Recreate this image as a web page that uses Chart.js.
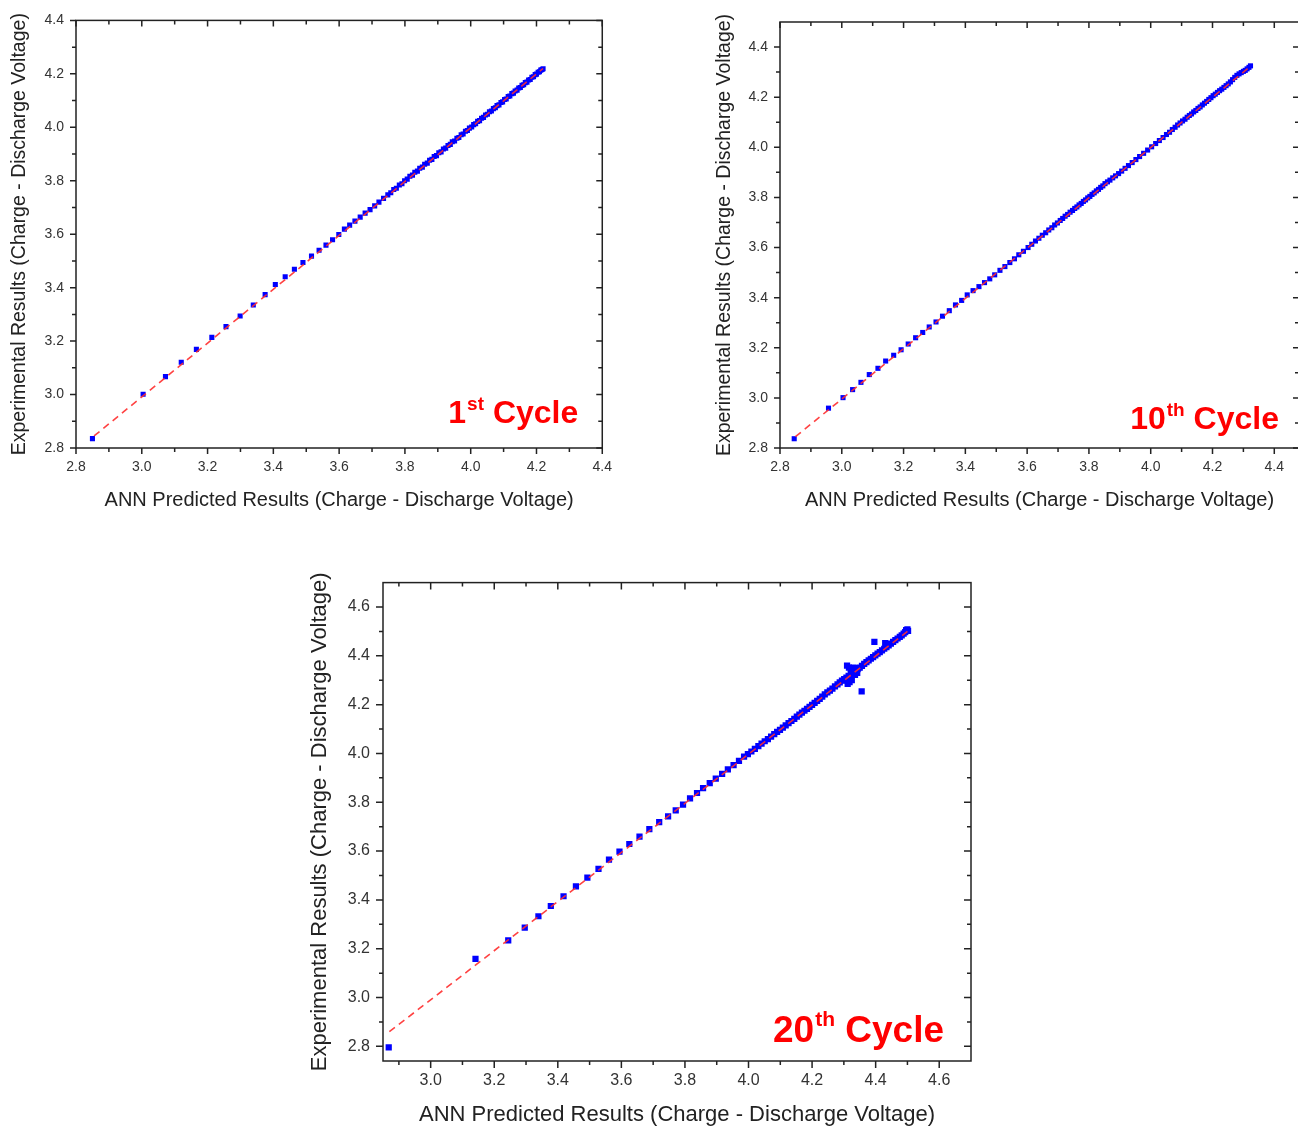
<!DOCTYPE html>
<html lang="en">
<head>
<meta charset="UTF-8">
<title>ANN Predicted vs Experimental Voltage</title>
<script src="https://cdn.jsdelivr.net/npm/chart.js"></script>
<style>
    html, body { margin: 0; padding: 0; overflow: hidden; background: #fff; }
    body { width: 1298px; height: 1128px; position: relative; }
    canvas { position: absolute; }
    #c1 { left: 0; top: 0; }
    #c2 { left: 700px; top: 0; }
    #c3 { left: 300px; top: 560px; }
</style>
</head>
<body>
<canvas id="c1" width="623" height="520"></canvas>
<canvas id="c2" width="620" height="520"></canvas>
<canvas id="c3" width="700" height="568"></canvas>

<script>
// axis titles
const xTitle = 'ANN Predicted Results (Charge - Discharge Voltage)';
const yTitle = 'Experimental Results (Charge - Discharge Voltage)';

// tick labels
const ticks1 = [2.8, 3.0, 3.2, 3.4, 3.6, 3.8, 4.0, 4.2, 4.4];
const ticks3x = [3.0, 3.2, 3.4, 3.6, 3.8, 4.0, 4.2, 4.4, 4.6];
const ticks3y = [2.8, 3.0, 3.2, 3.4, 3.6, 3.8, 4.0, 4.2, 4.4, 4.6];

// 1st cycle: [predicted, experimental]
const cycle1 = [
    [2.850, 2.835], [3.004, 3.001], [3.072, 3.067], [3.120, 3.121], [3.166, 3.169], [3.213, 3.214],
    [3.256, 3.254], [3.299, 3.294], [3.339, 3.335], [3.375, 3.374], [3.406, 3.412], [3.436, 3.441],
    [3.464, 3.469], [3.490, 3.494], [3.516, 3.518], [3.539, 3.540], [3.560, 3.559], [3.580, 3.579],
    [3.599, 3.599], [3.616, 3.619], [3.632, 3.634], [3.648, 3.649], [3.664, 3.664], [3.679, 3.679],
    [3.694, 3.692], [3.708, 3.706], [3.721, 3.720], [3.735, 3.734], [3.748, 3.747],
    [3.757, 3.755], [3.766, 3.767], [3.774, 3.772], [3.783, 3.784], [3.791, 3.789], [3.799, 3.800],
    [3.807, 3.806], [3.815, 3.817], [3.823, 3.821], [3.830, 3.832], [3.838, 3.836], [3.845, 3.847],
    [3.853, 3.851], [3.860, 3.862], [3.868, 3.866], [3.875, 3.877], [3.882, 3.880], [3.889, 3.891],
    [3.896, 3.894], [3.903, 3.905], [3.910, 3.908], [3.917, 3.919], [3.924, 3.922], [3.931, 3.932],
    [3.938, 3.936], [3.944, 3.946], [3.951, 3.949], [3.958, 3.959], [3.964, 3.962], [3.971, 3.972],
    [3.977, 3.975], [3.984, 3.985], [3.990, 3.988], [3.996, 3.997], [4.003, 4.001], [4.009, 4.010],
    [4.015, 4.013], [4.021, 4.022], [4.027, 4.025], [4.033, 4.034], [4.039, 4.037], [4.045, 4.046],
    [4.051, 4.049], [4.057, 4.058], [4.063, 4.061], [4.069, 4.070], [4.075, 4.073], [4.080, 4.081],
    [4.086, 4.084], [4.092, 4.093], [4.097, 4.095], [4.103, 4.104], [4.108, 4.106], [4.114, 4.115],
    [4.119, 4.117], [4.125, 4.126], [4.130, 4.128], [4.135, 4.136], [4.141, 4.139], [4.146, 4.147],
    [4.151, 4.149], [4.156, 4.157], [4.161, 4.159], [4.166, 4.167], [4.171, 4.169], [4.176, 4.177],
    [4.181, 4.179], [4.186, 4.187], [4.191, 4.189], [4.196, 4.197], [4.200, 4.199], [4.205, 4.206],
    [4.209, 4.208], [4.213, 4.214], [4.217, 4.216], [4.220, 4.219]
];
const fit1 = [[2.855, 2.845], [4.22, 4.22]];

// 10th cycle
const cycle10 = [
    [2.846, 2.837], [2.957, 2.959], [3.004, 3.001], [3.035, 3.033], [3.062, 3.062], [3.089, 3.093],
    [3.117, 3.118], [3.142, 3.147], [3.168, 3.170], [3.192, 3.192], [3.215, 3.215], [3.239, 3.240],
    [3.262, 3.261], [3.283, 3.283], [3.305, 3.303], [3.326, 3.326], [3.348, 3.348], [3.368, 3.371],
    [3.388, 3.389], [3.406, 3.411], [3.425, 3.428], [3.444, 3.444], [3.462, 3.460], [3.479, 3.475],
    [3.495, 3.491], [3.512, 3.509], [3.528, 3.524], [3.544, 3.540], [3.559, 3.555], [3.573, 3.571],
    [3.588, 3.585], [3.603, 3.600],
    [3.615, 3.613], [3.627, 3.626], [3.638, 3.637], [3.649, 3.649], [3.660, 3.659], [3.670, 3.670],
    [3.680, 3.679], [3.689, 3.690], [3.698, 3.698], [3.707, 3.708], [3.715, 3.716], [3.723, 3.725],
    [3.731, 3.732], [3.739, 3.741], [3.747, 3.748], [3.754, 3.756], [3.761, 3.762], [3.768, 3.770],
    [3.775, 3.776], [3.782, 3.784], [3.789, 3.790], [3.796, 3.798], [3.803, 3.804], [3.810, 3.812],
    [3.817, 3.818], [3.824, 3.826], [3.831, 3.832], [3.838, 3.840], [3.845, 3.846], [3.852, 3.855],
    [3.860, 3.862], [3.868, 3.869], [3.877, 3.878], [3.886, 3.886], [3.896, 3.895], [3.906, 3.905],
    [3.917, 3.916], [3.928, 3.927], [3.940, 3.939], [3.952, 3.951], [3.964, 3.963], [3.977, 3.976],
    [3.990, 3.989], [4.003, 4.002], [4.016, 4.015], [4.028, 4.027], [4.040, 4.039], [4.051, 4.051],
    [4.061, 4.060], [4.070, 4.071], [4.079, 4.080], [4.087, 4.089], [4.095, 4.097], [4.103, 4.105],
    [4.111, 4.112], [4.118, 4.120], [4.125, 4.127], [4.132, 4.133], [4.139, 4.141], [4.146, 4.147],
    [4.153, 4.155], [4.160, 4.161], [4.167, 4.169], [4.174, 4.176], [4.181, 4.183], [4.188, 4.191],
    [4.195, 4.198], [4.202, 4.206], [4.209, 4.212], [4.216, 4.219], [4.223, 4.226], [4.230, 4.232],
    [4.237, 4.239], [4.244, 4.246], [4.251, 4.253], [4.258, 4.261], [4.265, 4.270], [4.272, 4.279],
    [4.279, 4.287], [4.286, 4.293], [4.293, 4.298], [4.300, 4.303], [4.306, 4.307], [4.312, 4.313],
    [4.318, 4.319], [4.323, 4.325]
];
const fit10 = [[2.85, 2.845], [4.32, 4.32]];

// 20th cycle
const cycle20 = [
    [2.868, 2.796], [3.141, 3.158], [3.244, 3.234], [3.296, 3.286], [3.339, 3.333], [3.378, 3.375],
    [3.418, 3.415], [3.457, 3.455], [3.493, 3.491], [3.528, 3.527], [3.561, 3.565], [3.594, 3.598],
    [3.625, 3.629], [3.657, 3.659], [3.688, 3.690], [3.719, 3.719], [3.747, 3.742], [3.771, 3.767],
    [3.794, 3.790], [3.816, 3.816], [3.838, 3.838], [3.857, 3.858], [3.878, 3.878], [3.897, 3.897],
    [3.917, 3.916], [3.935, 3.935], [3.953, 3.952], [3.970, 3.970], [3.986, 3.987],
    [3.998, 3.997], [4.009, 4.008], [4.020, 4.019], [4.031, 4.030], [4.041, 4.040], [4.051, 4.050],
    [4.061, 4.059], [4.071, 4.069], [4.081, 4.079], [4.090, 4.088], [4.099, 4.097], [4.108, 4.106],
    [4.117, 4.115], [4.126, 4.124], [4.135, 4.133], [4.144, 4.142], [4.152, 4.151], [4.160, 4.159],
    [4.168, 4.167], [4.176, 4.175], [4.184, 4.183], [4.192, 4.191], [4.200, 4.199], [4.208, 4.207],
    [4.216, 4.215], [4.224, 4.224], [4.232, 4.233], [4.240, 4.242], [4.248, 4.250], [4.256, 4.257],
    [4.264, 4.266], [4.272, 4.275], [4.280, 4.283], [4.287, 4.291], [4.294, 4.298], [4.301, 4.305],
    [4.308, 4.311], [4.315, 4.318], [4.322, 4.325], [4.329, 4.331], [4.336, 4.338], [4.343, 4.345],
    [4.350, 4.352], [4.357, 4.359], [4.364, 4.367], [4.371, 4.374], [4.378, 4.381], [4.385, 4.388],
    [4.392, 4.395], [4.399, 4.402], [4.406, 4.409], [4.413, 4.415], [4.420, 4.422], [4.427, 4.429],
    [4.434, 4.436], [4.441, 4.443], [4.448, 4.450], [4.455, 4.457], [4.462, 4.464], [4.469, 4.471],
    [4.476, 4.478], [4.482, 4.484], [4.488, 4.491], [4.493, 4.497], [4.497, 4.503], [4.500, 4.508],
    [4.496, 4.505], [4.502, 4.502],
    // scattered points around 4.3 - 4.4
    [4.396, 4.457], [4.356, 4.254], [4.310, 4.360], [4.316, 4.352], [4.322, 4.345], [4.318, 4.292],
    [4.330, 4.352], [4.335, 4.322], [4.304, 4.300], [4.325, 4.300], [4.342, 4.330], [4.430, 4.452],
    [4.345, 4.350], [4.312, 4.285]
];
const fit20 = [[2.87, 2.86], [4.50, 4.50]];

const FONT = 'Arial, "Liberation Sans", sans-serif';
Chart.defaults.font.family = FONT;

// frame, Origin-style ticks on all four sides, and the red cycle label
const framePlugin = {
    id: 'frame',
    afterDraw(chart, args, o) {
        const { ctx, chartArea: a, scales: { x, y } } = chart;
        ctx.save();
        ctx.strokeStyle = '#222';
        ctx.lineWidth = 1.5;
        ctx.strokeRect(a.left, a.top, a.right - a.left, a.bottom - a.top);

        const minors = (list, sc) => {
            const out = [];
            list.forEach(v => out.push(+(v + 0.1).toFixed(2)));
            out.push(+(list[0] - 0.1).toFixed(2));
            return out.filter(v => v > sc.min + 0.001 && v < sc.max - 0.001);
        };
        const drawX = (vals, len) => vals.forEach(v => {
            const px = x.getPixelForValue(v);
            ctx.beginPath();
            ctx.moveTo(px, a.bottom); ctx.lineTo(px, a.bottom + len);
            ctx.moveTo(px, a.top); ctx.lineTo(px, a.top + len);
            ctx.stroke();
        });
        const drawY = (vals, len) => vals.forEach(v => {
            const py = y.getPixelForValue(v);
            ctx.beginPath();
            ctx.moveTo(a.left, py); ctx.lineTo(a.left - len, py);
            ctx.moveTo(a.right, py); ctx.lineTo(a.right - len, py);
            ctx.stroke();
        });
        drawX(o.xTicks, o.major); drawX(minors(o.xTicks, x), o.minor);
        drawY(o.yTicks, o.major); drawY(minors(o.yTicks, y), o.minor);

        // cycle label
        const big = 'bold ' + o.size + 'px ' + FONT;
        const small = 'bold ' + Math.round(o.size * 0.58) + 'px ' + FONT;
        ctx.fillStyle = '#ff0000';
        ctx.textBaseline = 'alphabetic';
        ctx.textAlign = 'left';
        ctx.font = big;
        const wNum = ctx.measureText(o.num).width;
        const wWord = ctx.measureText(' Cycle').width;
        ctx.font = small;
        const wSup = ctx.measureText(o.sup).width;
        const base = a.bottom - o.dy;
        let px = a.right - o.dx - wWord - wSup - wNum;
        ctx.font = big; ctx.fillText(o.num, px, base); px += wNum;
        ctx.font = small; ctx.fillText(o.sup, px + 1, base - o.size * 0.42); px += wSup + 1;
        ctx.font = big; ctx.fillText(' Cycle', px, base);
        ctx.restore();
    }
};

function makeChart(id, pts, fit, c) {
    return new Chart(document.getElementById(id), {
        type: 'scatter',
        data: {
            datasets: [
                {
                    data: fit.map(p => ({ x: p[0], y: p[1] })),
                    showLine: true,
                    borderColor: 'rgba(255, 45, 45, 0.9)',
                    borderWidth: 1.6,
                    borderDash: [7, 5],
                    pointRadius: 0,
                    order: 0
                },
                {
                    data: pts.map(p => ({ x: p[0], y: p[1] })),
                    pointStyle: 'rect',
                    pointRadius: c.r,
                    backgroundColor: '#0000ff',
                    borderWidth: 0,
                    order: 1
                }
            ]
        },
        options: {
            responsive: false,
            animation: false,
            layout: { padding: { top: c.padTop, right: c.padRight, left: 0, bottom: 0 } },
            plugins: {
                legend: { display: false },
                tooltip: { enabled: false },
                frame: { xTicks: c.xTicks, yTicks: c.yTicks, major: c.major, minor: c.minor,
                         num: c.num, sup: c.sup, size: c.size, dx: c.dx, dy: c.dy }
            },
            scales: {
                x: {
                    type: 'linear', min: c.xMin, max: c.xMax,
                    grid: { display: false, drawTicks: false },
                    border: { display: false },
                    afterBuildTicks: s => { s.ticks = c.xTicks.map(v => ({ value: v })); },
                    afterFit: s => { s.height = c.xH; },
                    ticks: { callback: v => v.toFixed(1), color: '#333', font: { size: c.tickSize },
                             padding: c.xPad, maxRotation: 0 },
                    title: { display: true, text: xTitle, color: '#222', font: { size: c.xTitleSize },
                             padding: { top: 0, bottom: c.xTitlePad } }
                },
                y: {
                    type: 'linear', min: c.yMin, max: c.yMax,
                    grid: { display: false, drawTicks: false },
                    border: { display: false },
                    afterBuildTicks: s => { s.ticks = c.yTicks.map(v => ({ value: v })); },
                    afterFit: s => { s.width = c.yW; },
                    ticks: { callback: v => v.toFixed(1), color: '#333', font: { size: c.tickSize },
                             padding: c.yPad },
                    title: { display: true, text: yTitle, color: '#222', font: { size: c.yTitleSize },
                             padding: { top: c.yTitlePad, bottom: 0 } }
                }
            }
        },
        plugins: [framePlugin]
    });
}

makeChart('c1', cycle1, fit1, {
    xMin: 2.8, xMax: 4.4, yMin: 2.8, yMax: 4.4, xTicks: ticks1, yTicks: ticks1,
    padTop: 20, padRight: 15, xH: 72, yW: 76, r: 3.6, major: 6, minor: 4,
    tickSize: 14, xPad: 11, yPad: 12, xTitleSize: 20, yTitleSize: 19.5, xTitlePad: 8, yTitlePad: 8,
    num: '1', sup: 'st', size: 32, dx: 25, dy: 25
});

makeChart('c2', cycle10, fit10, {
    xMin: 2.8, xMax: 4.48, yMin: 2.8, yMax: 4.5, xTicks: ticks1, yTicks: ticks1,
    padTop: 22, padRight: 21, xH: 72, yW: 80, r: 3.6, major: 6, minor: 4,
    tickSize: 14, xPad: 11, yPad: 12, xTitleSize: 20, yTitleSize: 19.5, xTitlePad: 8, yTitlePad: 13,
    num: '10', sup: 'th', size: 32, dx: 21, dy: 19
});

makeChart('c3', cycle20, fit20, {
    xMin: 2.85, xMax: 4.7, yMin: 2.74, yMax: 4.7, xTicks: ticks3x, yTicks: ticks3y,
    padTop: 21, padRight: 29, xH: 67, yW: 83, r: 4.4, major: 7, minor: 4,
    tickSize: 16, xPad: 10, yPad: 13, xTitleSize: 22, yTitleSize: 22, xTitlePad: 0, yTitlePad: 7,
    num: '20', sup: 'th', size: 37, dx: 28, dy: 19
});
</script>
</body>
</html>
